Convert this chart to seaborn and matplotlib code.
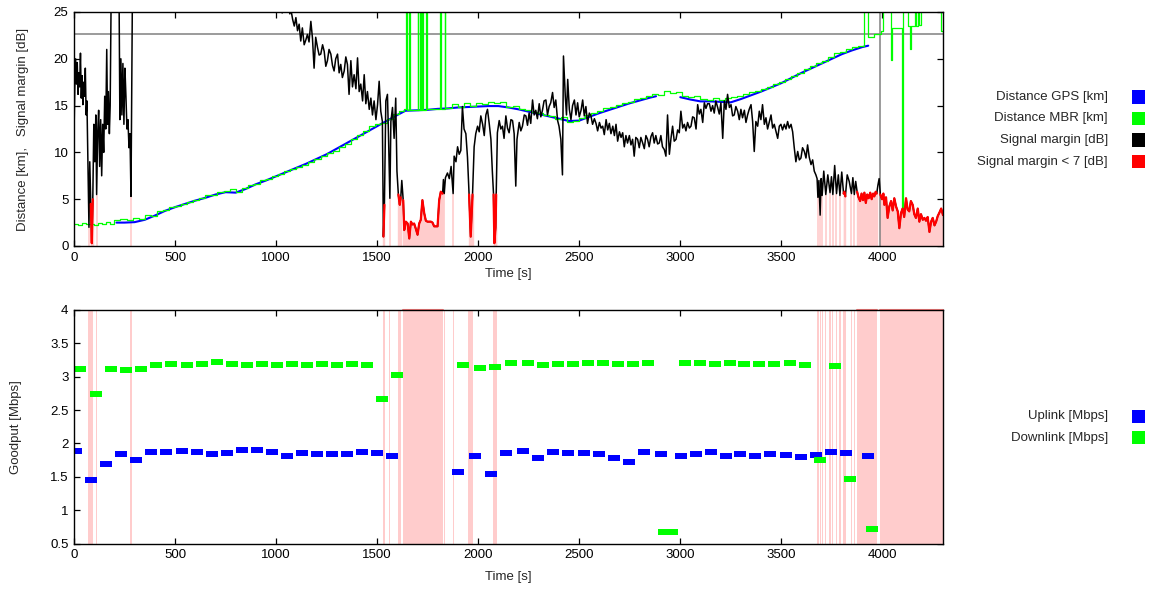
import numpy as np
import matplotlib
matplotlib.use("Agg")
import matplotlib.pyplot as plt
from matplotlib.patches import Rectangle
import seaborn as sns

# ---- top panel: distance and signal margin ----
gps_time = [210, 250, 300, 350, 400, 450, 500, 550, 600, 650,
            700, 750, 800, 850, 900, 950, 1000, 1050, 1100, 1150,
            1200, 1250, 1300, 1350, 1400, 1450, 1500, 1550, 1600, 1640,
            1700, 1750, 1800, 1850, 1900, 1950, 2000, 2050, 2100, 2150,
            2200, 2250, 2300, 2350, 2400, 2450, 2500, 2550, 2600, 2650,
            2700, 2750, 2800, 2850, 2880, 2940, 3000, 3050, 3100, 3150,
            3200, 3250, 3300, 3350, 3400, 3450, 3500, 3550, 3600, 3650,
            3700, 3750, 3800, 3850, 3900, 3930]
gps_km = [2.5, 2.5, 2.55, 2.8, 3.25, 3.75, 4.15, 4.5, 4.85, 5.15,
          5.5, 5.75, 5.7, 6.1, 6.6, 7.0, 7.45, 7.9, 8.35, 8.8,
          9.3, 9.8, 10.4, 11.0, 11.6, 12.2, 12.8, 13.4, 14.0, 14.45,
          14.5, 14.55, 14.65, 14.7, 14.8, 14.85, 14.9, 14.95, 14.95, 14.8,
          14.6, 14.35, 14.1, 13.85, 13.6, 13.35, 13.4, 13.8, 14.2, 14.55,
          14.9, 15.25, 15.55, 15.85, 16.0, np.nan, 15.9, 15.65, 15.45, 15.45,
          15.4, 15.35, 15.7, 16.1, 16.5, 16.95, 17.4, 17.95, 18.5, 19.0,
          19.5, 20.0, 20.5, 20.9, 21.25, 21.4]

mbr_time = [0, 20, 40, 60, 80, 100, 120, 140, 160, 180,
            200, 230, 260, 290, 320, 350, 380, 410, 440, 470,
            500, 530, 560, 590, 620, 650, 680, 710, 740, 770,
            800, 830, 860, 890, 920, 950, 980, 1010, 1040, 1070,
            1100, 1130, 1160, 1190, 1220, 1250, 1280, 1310, 1340, 1370,
            1400, 1430, 1460, 1490, 1520, 1550, 1580, 1610, 1635, 1644,
            1647, 1660, 1663, 1700, 1703, 1713, 1716, 1723, 1726, 1743,
            1746, 1812, 1815, 1835, 1838, 1870, 1900, 1930, 1960, 1990,
            2020, 2050, 2080, 2110, 2140, 2170, 2200, 2230, 2260, 2290,
            2320, 2350, 2380, 2410, 2440, 2470, 2500, 2530, 2560, 2590,
            2620, 2650, 2680, 2710, 2740, 2770, 2800, 2830, 2860, 2890,
            2920, 2950, 2980, 3010, 3040, 3070, 3100, 3130, 3160, 3190,
            3220, 3250, 3280, 3310, 3340, 3370, 3400, 3430, 3460, 3490,
            3520, 3550, 3580, 3610, 3640, 3670, 3700, 3730, 3760, 3790,
            3820, 3850, 3880, 3911, 3927, 3960, 3993, 4001, 4043, 4048,
            4095, 4100, 4125, 4138, 4142, 4160, 4165, 4175, 4180, 4190,
            4288, 4300]
mbr_km = [2.4, 2.2, 2.5, 2.3, 2.4, 2.2, 2.5, 2.4, 2.6, 2.4,
          2.8, 2.9, 2.8, 3.0, 2.9, 3.3, 3.2, 3.7, 3.8, 4.2,
          4.3, 4.5, 4.7, 4.9, 5.1, 5.4, 5.5, 5.8, 5.9, 6.1,
          5.8, 6.2, 6.5, 6.6, 7.0, 7.2, 7.5, 7.7, 8.0, 8.2,
          8.4, 8.7, 9.0, 9.3, 9.6, 9.9, 10.2, 10.6, 10.9, 11.4,
          11.9, 12.3, 12.8, 13.0, 13.1, 13.6, 14.1, 14.4, 14.6, 30,
          14.5, 30, 14.5, 30, 14.5, 30, 14.5, 30, 14.5, 30,
          14.6, 30, 14.6, 30, 14.7, 15.2, 14.9, 15.3, 15.0, 15.3,
          15.2, 15.4, 15.3, 15.4, 14.8, 15.0, 14.6, 14.5, 14.3, 14.2,
          14.0, 13.9, 13.6, 13.8, 13.3, 13.4, 13.7, 14.0, 14.2, 14.4,
          14.7, 14.8, 15.1, 15.3, 15.4, 15.7, 15.8, 16.0, 16.2, 16.1,
          16.6, 16.3, 16.4, 16.0, 15.9, 16.0, 15.7, 15.6, 15.8, 15.6,
          15.8, 15.9, 16.0, 16.2, 16.4, 16.6, 16.8, 17.0, 17.3, 17.5,
          17.8, 18.2, 18.5, 18.9, 19.2, 19.6, 19.8, 20.2, 20.6, 20.7,
          21.1, 21.3, 21.4, 30, 22.3, 22.6, 23.0, 30, 19.9, 23.3,
          3.8, 30, 23.5, 21.0, 23.5, 30, 23.5, 30, 23.6, 30,
          23.0, 23.0]

sig_time = [0, 4, 8, 12, 16, 20, 24, 28, 32, 36,
            40, 44, 48, 52, 56, 60, 64, 68, 74, 78,
            83, 88, 93, 98, 103, 108, 112, 117, 122, 127,
            132, 137, 142, 147, 152, 157, 162, 166, 170, 175,
            179, 183, 190, 205, 222, 227, 232, 237, 242, 247,
            252, 257, 262, 267, 272, 277, 282, 290, 500, 800,
            990, 1000, 1010, 1020, 1030, 1040, 1050, 1060, 1068, 1073,
            1082, 1090, 1098, 1106, 1114, 1122, 1130, 1139, 1147, 1155,
            1163, 1172, 1180, 1188, 1196, 1205, 1213, 1221, 1230, 1238,
            1246, 1254, 1262, 1271, 1279, 1287, 1295, 1304, 1312, 1320,
            1328, 1337, 1345, 1353, 1361, 1370, 1378, 1386, 1395, 1403,
            1411, 1419, 1428, 1436, 1444, 1452, 1461, 1469, 1477, 1485,
            1494, 1502, 1510, 1518, 1526, 1531, 1536, 1543, 1551, 1556,
            1563, 1568, 1576, 1584, 1592, 1598, 1605, 1612, 1617, 1622,
            1629, 1634, 1642, 1651, 1659, 1667, 1675, 1683, 1692, 1700,
            1708, 1716, 1724, 1733, 1741, 1749, 1758, 1766, 1774, 1782,
            1790, 1799, 1807, 1815, 1824, 1828, 1832, 1838, 1848, 1857,
            1866, 1876, 1881, 1890, 1898, 1906, 1914, 1922, 1930, 1939,
            1947, 1955, 1963, 1972, 1980, 1988, 1997, 2005, 2013, 2022,
            2030, 2038, 2046, 2055, 2063, 2070, 2076, 2080, 2086, 2089,
            2095, 2104, 2112, 2120, 2128, 2137, 2145, 2153, 2162, 2170,
            2178, 2186, 2192, 2203, 2211, 2219, 2228, 2236, 2244, 2252,
            2260, 2269, 2277, 2285, 2293, 2302, 2310, 2318, 2326, 2335,
            2343, 2351, 2359, 2368, 2376, 2384, 2393, 2400, 2409, 2417,
            2422, 2431, 2437, 2443, 2451, 2459, 2467, 2476, 2484, 2492,
            2500, 2509, 2517, 2525, 2533, 2541, 2550, 2558, 2566, 2575,
            2583, 2591, 2600, 2608, 2616, 2624, 2633, 2641, 2649, 2657,
            2666, 2674, 2682, 2690, 2699, 2707, 2715, 2723, 2731, 2739,
            2748, 2756, 2764, 2772, 2780, 2789, 2797, 2805, 2814, 2822,
            2830, 2838, 2846, 2855, 2863, 2871, 2879, 2888, 2896, 2904,
            2912, 2921, 2929, 2937, 2946, 2954, 2962, 2970, 2979, 2987,
            2995, 3003, 3012, 3020, 3028, 3036, 3045, 3053, 3061, 3069,
            3078, 3086, 3094, 3102, 3111, 3119, 3127, 3135,
            3144, 3152, 3160, 3168, 3176, 3185, 3193, 3201, 3210, 3218,
            3226, 3234, 3243, 3251, 3259, 3267, 3275, 3284, 3292, 3300,
            3308, 3317, 3325, 3333, 3341, 3350, 3358, 3366, 3374, 3383,
            3391, 3399, 3407, 3416, 3424, 3432, 3440, 3449, 3457, 3465,
            3473, 3482, 3490, 3498, 3506, 3515, 3523, 3531, 3539, 3548,
            3556, 3564, 3572, 3581, 3589, 3597, 3605, 3614, 3622, 3630,
            3638, 3647, 3655, 3663, 3671, 3677,
            3681, 3686, 3692, 3697, 3702, 3710, 3720, 3730, 3741, 3748,
            3755, 3764, 3773, 3782, 3790, 3799, 3808, 3812, 3817, 3826,
            3836, 3847, 3854, 3861, 3868, 3875, 3882, 3890, 3897, 3904,
            3911, 3918, 3925, 3932, 3940, 3947, 3954, 3960, 3967, 3972,
            3978, 3984, 3990, 3998, 4005, 4010, 4018, 4026, 4034, 4043,
            4051, 4059, 4068, 4076, 4084, 4092, 4100, 4108, 4117, 4125,
            4133, 4141, 4150, 4158, 4166, 4175, 4183, 4191, 4200, 4208,
            4216, 4224, 4233, 4241, 4249, 4258, 4266, 4274, 4283, 4291, 4300]
sig_margin = [12.0, 17.0, 20.0, 17.3, 19.6, 16.2, 18.5, 17.0, 20.6, 15.8,
              18.2, 15.1, 17.5, 16.0, 19.0, 14.0, 15.5, 10.0, 2.0, 9.0,
              4.5, 0.3, 5.0, 13.0, 9.0, 14.0, 5.5, 12.0, 14.5, 8.5,
              13.5, 7.5, 13.0, 10.0, 16.0, 12.5, 21.0, 13.0, 16.5, 12.0,
              15.0, 26.0, 30.0, 30.0, 30.0, 13.5, 20.0, 14.0, 19.5, 13.0,
              19.0, 16.0, 12.5, 13.5, 10.5, 12.0, 5.3, 30.0, 30.0, 30.0,
              30.0, 26.0, 25.2, 26.0, 24.9, 25.6, 25.1, 25.8, 24.8, 25.3,
              24.2, 23.5, 24.4, 23.0, 23.7, 21.9, 23.3, 21.5, 22.0, 22.6,
              21.8, 24.0, 22.2, 19.0, 22.3, 21.2, 20.4, 20.5, 21.5, 20.8,
              19.2, 19.8, 21.0, 20.5, 19.3, 18.7, 20.0, 20.5, 18.5, 19.4,
              18.0, 18.7, 20.2, 19.4, 16.2, 19.8, 17.0, 18.3, 16.8, 20.1,
              16.5, 17.3, 15.5, 18.3, 15.2, 16.5, 14.6, 15.8, 14.0, 15.5,
              13.5, 15.1, 17.6, 14.4, 13.3, 1.0, 4.4, 15.5, 16.2, 12.0,
              5.1, 13.3, 14.8, 11.5, 15.8, 8.0, 5.5, 4.4, 5.2, 7.0,
              4.9, 1.7, 2.6, 2.4, 0.8, 2.6, 2.3, 2.4, 1.8, 1.2,
              2.4, 2.8, 4.9, 3.5, 2.7, 2.6, 2.6, 2.6, 2.5, 2.1,
              2.1, 2.1, 4.9, 5.8, 5.6, 7.1, 5.6, 7.3, 7.8, 7.2,
              8.5, 5.6, 9.6, 9.0, 10.6, 9.8, 10.2, 14.9, 12.5, 12.0,
              9.5, 5.5, 1.0, 5.5, 10.6, 12.0, 12.8, 12.2, 13.9, 13.0,
              11.8, 14.0, 14.6, 13.0, 11.4, 8.0, 5.5, 0.3, 2.0, 5.5,
              12.1, 13.4, 12.5, 12.8, 11.5, 13.9, 12.6, 12.1, 13.5, 13.4,
              12.0, 6.4, 11.4, 13.2, 12.3, 12.8, 14.0, 13.9, 12.9, 14.2,
              13.1, 15.6, 14.0, 14.5, 13.6, 15.2, 13.8, 14.5, 15.5, 15.6,
              14.0, 14.9, 15.3, 16.4, 14.8, 15.6, 13.4, 12.8, 11.4, 7.6,
              20.3, 16.0, 14.0, 17.8, 14.6, 13.5, 15.0, 15.6, 14.0, 15.3,
              13.8, 14.5, 15.6, 13.9, 14.9, 13.1, 14.2, 13.9, 13.0, 13.6,
              13.1, 12.3, 13.2, 12.6, 12.8, 11.9, 13.5, 12.4, 13.1, 12.0,
              12.8, 11.8, 13.0, 11.2, 12.2, 11.6, 12.1, 10.6, 11.8, 11.0,
              11.8, 10.8, 11.4, 9.6, 11.6, 11.4, 10.5, 11.6, 11.0, 10.4,
              11.8, 11.4, 10.6, 11.7, 12.1, 11.0, 11.8, 10.9, 11.0, 11.8,
              10.6, 10.3, 9.6, 14.0, 9.8, 11.5, 12.8, 11.2, 11.4, 12.4,
              12.1, 14.4, 12.6, 13.0, 12.3, 13.2, 12.6, 12.8, 13.8, 13.7,
              12.5, 15.1, 14.1, 14.6, 13.2, 15.3, 14.7, 15.2,
              15.2, 14.4, 15.0, 14.2, 15.5, 14.8, 14.1, 15.3, 11.5, 15.5,
              14.6, 16.2, 14.8, 15.1, 13.9, 14.0, 14.9, 14.4, 13.5, 14.6,
              13.7, 14.5, 13.2, 14.0, 14.6, 15.1, 13.3, 10.1, 13.3, 12.8,
              14.4, 13.5, 15.1, 13.0, 13.7, 12.5, 13.2, 14.0, 12.6, 13.0,
              12.3, 11.5, 12.8, 13.0, 12.4, 13.0, 12.5, 13.3, 12.6, 13.0,
              12.2, 10.5, 9.0, 10.1, 9.2, 9.4, 10.5, 10.1, 9.4, 10.8,
              9.5, 8.7, 9.2, 8.0, 7.6, 7.2,
              5.2, 7.0, 3.3, 7.2, 5.4, 8.0, 5.5, 7.6, 5.7, 7.4,
              5.5, 8.6, 5.6, 7.6, 5.4, 7.9, 5.6, 5.8, 5.3, 7.6,
              6.9, 5.6, 7.3, 5.5, 6.9, 5.8, 5.2, 4.8, 5.6, 4.9,
              5.7, 4.6, 5.5, 5.1, 5.7, 5.0, 5.6, 5.3, 5.8, 5.6,
              6.5, 7.2, 5.5, 5.0, 5.6, 4.4, 5.2, 3.0, 4.2, 4.8,
              3.8, 5.1, 4.2, 3.7, 1.9, 3.5, 4.0, 3.1, 5.1, 3.9,
              3.7, 4.8, 4.4, 3.4, 3.0, 4.0, 2.6, 3.4, 2.8, 3.0,
              2.7, 3.1, 1.5, 2.6, 3.0, 2.2, 2.6, 3.2, 3.6, 4.0, 3.3]
margin_limit = 6.0
sat_ref_km = 22.6
handover_s = 3990

# ---- bottom panel: goodput ----
up_time = [8, 84, 159, 233, 307, 381, 457, 535, 609, 683,
           757, 832, 906, 980, 1054, 1129, 1201, 1276, 1350, 1426,
           1498, 1574, 1901, 1986, 2064, 2139, 2222, 2296, 2370, 2445,
           2524, 2596, 2672, 2744, 2819, 2907, 3002, 3078, 3150, 3226,
           3295, 3369, 3443, 3521, 3596, 3671, 3747, 3819, 3927]
up_mbps = [1.88, 1.445, 1.685, 1.835, 1.745, 1.865, 1.865, 1.88, 1.865, 1.835,
           1.85, 1.895, 1.895, 1.865, 1.805, 1.85, 1.835, 1.835, 1.835, 1.865,
           1.85, 1.805, 1.565, 1.805, 1.535, 1.85, 1.88, 1.775, 1.865, 1.85,
           1.85, 1.835, 1.775, 1.715, 1.865, 1.835, 1.805, 1.835, 1.865, 1.805,
           1.835, 1.805, 1.835, 1.82, 1.79, 1.82, 1.865, 1.85, 1.805]
down_time = [30, 107, 182, 256, 330, 404, 482, 558, 632, 706,
             781, 855, 929, 1003, 1078, 1152, 1226, 1299, 1375, 1449,
             1523, 1597, 1924, 2009, 2085, 2162, 2245, 2319, 2393, 2467,
             2543, 2619, 2691, 2766, 2840, 2919, 2958, 3023, 3097, 3171,
             3245, 3316, 3392, 3466, 3542, 3618, 3692, 3768, 3842, 3948]
down_mbps = [3.11, 2.735, 3.11, 3.095, 3.11, 3.17, 3.185, 3.17, 3.185, 3.215,
             3.185, 3.17, 3.185, 3.17, 3.185, 3.17, 3.185, 3.17, 3.185, 3.17,
             2.66, 3.02, 3.17, 3.125, 3.14, 3.2, 3.2, 3.17, 3.185, 3.185,
             3.2, 3.2, 3.185, 3.185, 3.2, 0.665, 0.665, 3.2, 3.2, 3.185,
             3.2, 3.185, 3.185, 3.185, 3.2, 3.17, 1.745, 3.155, 1.46, 0.71]

top_yticks = [0, 5, 10, 15, 20, 25]
bottom_yticks = [0.5, 1, 1.5, 2, 2.5, 3, 3.5, 4]
time_ticks = [0, 500, 1000, 1500, 2000, 2500, 3000, 3500, 4000]

assert len(sig_time) == len(sig_margin)
assert len(mbr_time) == len(mbr_km)

BLUE, GREEN, RED, PINK = "#0000ff", "#00ff00", "#ff0000", "#ffcccc"

sns.set_style("ticks")
plt.rcParams["font.family"] = ["Liberation Sans", "DejaVu Sans"]
plt.rcParams["font.size"] = 9.5

W, H = 1151, 591
fig = plt.figure(figsize=(W / 100, H / 100), dpi=100)
ax1 = fig.add_axes([74 / W, 1 - 246 / H, 869 / W, 234 / H])
ax2 = fig.add_axes([74 / W, 1 - 543.5 / H, 869 / W, 233.5 / H])

sig_t = np.array(sig_time, dtype=float)
sig_v = np.array(sig_margin, dtype=float)
low = sig_v < margin_limit
d = np.diff(np.concatenate([[0], low.astype(int), [0]]))
runs = list(zip(np.flatnonzero(d == 1), np.flatnonzero(d == -1)))

# pink shading wherever the margin is under the limit
for a, b in runs:
    if b - a == 1:
        ax1.vlines(sig_t[a], 0, sig_v[a], color=PINK, lw=1.2, zorder=1)
    else:
        ax1.fill_between(sig_t[a:b], 0, sig_v[a:b], color=PINK, lw=0, zorder=1)
        ax1.vlines(sig_t[a:b], 0, sig_v[a:b], color=PINK, lw=1.0, zorder=1)
    ax2.axvspan(sig_t[a] - 3, sig_t[b - 1] + 3, color=PINK, lw=0, zorder=1)
    if b - a > 6:
        ax2.plot([sig_t[a], sig_t[b - 1]], [4, 4], color="#ff8080", lw=1.5,
                 zorder=1.2, clip_on=False)

ax1.axhline(sat_ref_km, color="#808080", lw=1.1, zorder=1.5)
ax1.axvline(handover_s, color="#808080", lw=1.1, zorder=1.5)

ax1.plot(gps_time, gps_km, color=BLUE, lw=1.5, zorder=3)
ax1.plot(mbr_time, mbr_km, color=GREEN, lw=0.9, drawstyle="steps-post", zorder=3.5)
sns.lineplot(x=sig_t, y=sig_v, ax=ax1, color="black", lw=1.1,
             estimator=None, sort=False, zorder=4)
ax1.plot(sig_t, np.where(low, sig_v, np.nan), color=RED, lw=1.6, zorder=5)

ax1.set_xlim(0, 4300)
ax1.set_ylim(0, 25)
ax1.set_yticks(top_yticks)
ax1.set_xticks(time_ticks)
ax1.set_xlabel("Time [s]")
ax1.set_ylabel("Distance [km],   Signal margin [dB]")
ax1.xaxis.set_label_coords(0.5, -0.095)
ax1.yaxis.set_label_coords(-0.052, 0.5)

# goodput markers: flat rectangles
rect = [(-1, -0.58), (1, -0.58), (1, 0.58), (-1, 0.58), (-1, -0.58)]
sns.scatterplot(x=up_time, y=up_mbps, ax=ax2, marker=rect, s=64,
                color=BLUE, linewidth=0, zorder=3)
sns.scatterplot(x=down_time, y=down_mbps, ax=ax2, marker=rect, s=64,
                color=GREEN, linewidth=0, zorder=3)

ax2.set_xlim(0, 4300)
ax2.set_ylim(0.5, 4)
ax2.set_yticks(bottom_yticks)
ax2.set_yticklabels([f"{v:g}" for v in bottom_yticks])
ax2.set_xticks(time_ticks)
ax2.set_xlabel("Time [s]")
ax2.set_ylabel("Goodput [Mbps]")
ax2.xaxis.set_label_coords(0.5, -0.118)
ax2.yaxis.set_label_coords(-0.06, 0.5)

for ax in (ax1, ax2):
    ax.tick_params(direction="in", top=True, right=True, length=4, width=0.9,
                   colors="black", labelsize=9.5, pad=4)
    for sp in ax.spines.values():
        sp.set_visible(True)
        sp.set_linewidth(1.0)
        sp.set_color("black")
        sp.set_zorder(6)

# legends at the right, text right-aligned, colour box after the text
def legend_rows(labels, colors, y_px):
    for lab, col, y in zip(labels, colors, y_px):
        fig.text(1108 / W, 1 - y / H, lab, ha="right", va="center", fontsize=9.5)
        fig.add_artist(Rectangle((1132 / W, 1 - (y + 6.5) / H), 13 / W, 13 / H,
                                 transform=fig.transFigure, color=col, lw=0))

legend_rows(["Distance GPS [km]", "Distance MBR [km]", "Signal margin [dB]",
             "Signal margin < 7 [dB]"], [BLUE, GREEN, "black", RED],
            [97, 118.5, 140, 161.5])
legend_rows(["Uplink [Mbps]", "Downlink [Mbps]"], [BLUE, GREEN], [416, 437.5])

fig.savefig("out.png", dpi=100)
